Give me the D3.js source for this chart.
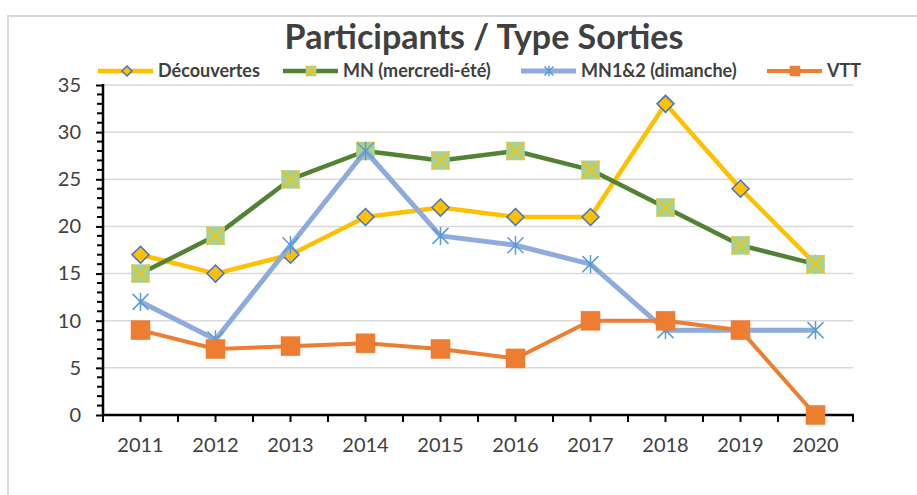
<!DOCTYPE html>
<html>
<head>
<meta charset="utf-8">
<script src="https://cdn.jsdelivr.net/npm/d3@7"></script>
<style>
  html, body { margin: 0; padding: 0; background: #ffffff; }
  svg { display: block; }
  text { font-family: Lato, "Open Sans", sans-serif; fill: #404040; }
</style>
</head>
<body>
<svg id="chart" width="917" height="495"></svg>
<script>
const years = ["2011","2012","2013","2014","2015","2016","2017","2018","2019","2020"];
const decouvertes = [17, 15, 17, 21, 22, 21, 21, 33, 24, 16];
const mnMercredi  = [15, 19, 25, 28, 27, 28, 26, 22, 18, 16];
const mn12        = [12, 8, 18, 28, 19, 18, 16, 9, 9, 9];
const vtt         = [9, 7, 7.3, 7.6, 7, 6, 10, 10, 9, 0];
const yTicks = [0, 5, 10, 15, 20, 25, 30, 35];
const seriesNames = ["Découvertes", "MN (mercredi-été)", "MN1&2 (dimanche)", "VTT"];
const titleText = "Participants / Type Sorties";

const series = [
  { name: seriesNames[0], values: decouvertes, line: "#FFC000", width: 4.5, marker: "diamond" },
  { name: seriesNames[1], values: mnMercredi,  line: "#548235", width: 4.5, marker: "xsquare" },
  { name: seriesNames[2], values: mn12,        line: "#8FAADC", width: 5,   marker: "star" },
  { name: seriesNames[3], values: vtt,         line: "#ED7D31", width: 4,   marker: "square" }
];

const svg = d3.select("#chart");
const plot = { left: 103, right: 853, top: 85, bottom: 415 };

// chart border
svg.append("path")
  .attr("d", `M8,495 L8,16 L917,16`)
  .attr("fill", "none").attr("stroke", "#d9d9d9").attr("stroke-width", 2);

const x = d3.scalePoint().domain(years).range([plot.left, plot.right]).padding(0.5);
const y = d3.scaleLinear().domain([0, 35]).range([plot.bottom, plot.top]);

// gridlines
svg.append("g").selectAll("line").data(yTicks.filter(d => d > 0)).join("line")
  .attr("x1", plot.left).attr("x2", plot.right)
  .attr("y1", d => y(d)).attr("y2", d => y(d))
  .attr("stroke", "#d9d9d9").attr("stroke-width", 1.5);

// y axis
const yAxis = svg.append("g").attr("transform", `translate(${plot.left},0)`)
  .call(d3.axisLeft(y).tickValues(yTicks).tickSize(7).tickPadding(15).tickFormat(d3.format("d")));
yAxis.select(".domain").remove();
yAxis.selectAll(".tick line").attr("stroke", "#000").attr("stroke-width", 2).attr("x2", -7).attr("x1", 1);
yAxis.selectAll(".tick text").style("font-size", "20px").attr("fill", "#404040");
// minor y ticks
svg.append("g").selectAll("line").data(d3.range(0, 36).filter(d => d % 5 !== 0)).join("line")
  .attr("x1", plot.left - 6).attr("x2", plot.left)
  .attr("y1", d => y(d)).attr("y2", d => y(d))
  .attr("stroke", "#000").attr("stroke-width", 2);
svg.append("line").attr("x1", plot.left).attr("x2", plot.left)
  .attr("y1", plot.top - 1).attr("y2", plot.bottom + 1)
  .attr("stroke", "#000").attr("stroke-width", 2.5);

// x axis
const step = x.step();
const xBoundaries = d3.range(years.length + 1).map(i => plot.left + i * step);
const xCenters = years.map(d => x(d));
const xAxisG = svg.append("g");
xAxisG.append("line").attr("x1", plot.left - 1).attr("x2", plot.right + 1)
  .attr("y1", plot.bottom).attr("y2", plot.bottom)
  .attr("stroke", "#000").attr("stroke-width", 2.5);
xAxisG.selectAll("line.tk").data(xBoundaries.concat(xCenters)).join("line").attr("class", "tk")
  .attr("x1", d => d).attr("x2", d => d)
  .attr("y1", plot.bottom).attr("y2", plot.bottom + 7)
  .attr("stroke", "#000").attr("stroke-width", 2);
xAxisG.selectAll("text").data(years).join("text")
  .attr("x", d => x(d)).attr("y", plot.bottom + 37)
  .attr("text-anchor", "middle").style("font-size", "20px").text(d => d);

// marker drawing
function drawMarker(g, type, size) {
  const h = size / 2;
  if (type === "diamond") {
    g.append("path").attr("d", `M0,${-h} L${h},0 L0,${h} L${-h},0 Z`)
      .attr("fill", "#FFC000").attr("stroke", "#4472C4").attr("stroke-width", 1.5);
  } else if (type === "xsquare") {
    g.append("rect").attr("x", -h).attr("y", -h).attr("width", size).attr("height", size)
      .attr("fill", "#A9D18E").attr("stroke", "#A9D18E").attr("stroke-width", 0.5);
    g.append("path").attr("d", `M${-h},${-h} L${h},${h} M${h},${-h} L${-h},${h}`)
      .attr("stroke", "#FFC000").attr("stroke-width", 1.5);
  } else if (type === "star") {
    g.append("path").attr("d", `M${-h},${-h} L${h},${h} M${h},${-h} L${-h},${h} M0,${-h*1.15} L0,${h*1.15}`)
      .attr("stroke", "#5B9BD5").attr("stroke-width", 1.5).attr("fill", "none");
  } else if (type === "square") {
    g.append("rect").attr("x", -h).attr("y", -h).attr("width", size).attr("height", size)
      .attr("fill", "#ED7D31").attr("stroke", "#ED7D31").attr("stroke-width", 0.5);
  }
}

const line = d3.line().x((d, i) => x(years[i])).y(d => y(d));
const markerSize = { diamond: 17, xsquare: 18, star: 16, square: 19 };

series.forEach(s => {
  const g = svg.append("g");
  g.append("path").datum(s.values).attr("d", line)
    .attr("fill", "none").attr("stroke", s.line).attr("stroke-width", s.width)
    .attr("stroke-linejoin", "round");
  s.values.forEach((v, i) => {
    const mg = g.append("g").attr("transform", `translate(${x(years[i])},${y(v)})`);
    drawMarker(mg, s.marker, markerSize[s.marker]);
  });
});

// title
svg.append("text").attr("x", 484).attr("y", 49).attr("text-anchor", "middle")
  .style("font-size", "34px").style("font-weight", "bold").attr("fill", "#333333")
  .text(titleText);

// legend
const legendX = [98, 283, 521, 767];
const legendY = 71;
series.forEach((s, i) => {
  const g = svg.append("g").attr("transform", `translate(${legendX[i]},${legendY})`);
  g.append("line").attr("x1", 0).attr("x2", 55).attr("y1", 0).attr("y2", 0)
    .attr("stroke", s.line).attr("stroke-width", s.width);
  const mg = g.append("g").attr("transform", `translate(${s.marker === "diamond" ? 29 : 28},0)`);
  drawMarker(mg, s.marker, s.marker === "star" ? 9 : 10);
  g.append("text").attr("x", 60).attr("y", 6).style("font-size", "18px").style("font-weight", "bold")
    .attr("fill", "#404040").text(s.name);
});
</script>
</body>
</html>
